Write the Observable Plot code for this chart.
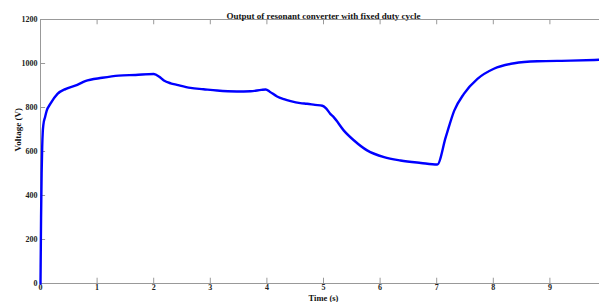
<!DOCTYPE html>
<html>
<head>
<meta charset="utf-8">
<script src="https://cdn.jsdelivr.net/npm/d3@7"></script>
<script src="https://cdn.jsdelivr.net/npm/@observablehq/plot@0.6"></script>
<style>
  html, body { margin: 0; padding: 0; background: #fff; overflow: hidden; }
  #chart { width: 599px; height: 302px; overflow: hidden; }
  #chart svg { max-width: none !important; }
</style>
</head>
<body>
<div id="chart"></div>
<script>
const title = "Output of resonant converter with fixed duty cycle";
const xLabel = "Time (s)";
const yLabel = "Voltage (V)";
const xTicks = [0, 1, 2, 3, 4, 5, 6, 7, 8, 9, 10];
const yTicks = [0, 200, 400, 600, 800, 1000, 1200];

const time = [0, 0.005, 0.01, 0.02, 0.03, 0.04, 0.05, 0.08, 0.11, 0.17, 0.3, 0.45, 0.65, 0.79, 1.09, 1.38, 1.68, 2.0, 2.1, 2.18, 2.3, 2.41, 2.65, 2.88, 3.12, 3.47, 3.71, 3.9, 3.98, 4.05, 4.18, 4.3, 4.42, 4.59, 4.71, 4.85, 4.98, 5.05, 5.12, 5.18, 5.36, 5.54, 5.77, 6.07, 6.36, 6.72, 7.01, 7.16, 7.31, 7.48, 7.72, 8.01, 8.37, 8.78, 9.37, 9.88, 10];
const voltage = [0, 150, 300, 500, 620, 690, 720, 756, 786, 815, 862, 885, 903, 920, 935, 945, 948, 952, 940, 923, 910, 903, 889, 883, 877, 873, 874, 880, 882, 872, 850, 838, 829, 820, 817, 812, 808, 795, 771, 756, 695, 650, 605, 574, 559, 548, 541, 665, 786, 862, 930, 976, 1001, 1010, 1013, 1017, 1018];

const data = time.map((t, i) => ({t, v: voltage[i]}));

const serif = '"Liberation Serif", "Times New Roman", serif';
const axisColor = "#999";
const chart = Plot.plot({
  width: 620,
  height: 302,
  marginLeft: 40,
  marginRight: 14,
  marginTop: 19,
  marginBottom: 19,
  style: {fontFamily: serif, background: "#fff", maxWidth: "none"},
  x: {domain: [0, 10]},
  y: {domain: [0, 1200]},
  marks: [
    Plot.frame({stroke: axisColor, strokeWidth: 1}),
    Plot.ruleX(xTicks, {x: d => d, y1: 0, y2: 24, stroke: axisColor}),
    Plot.ruleX(xTicks, {x: d => d, y1: 1176, y2: 1200, stroke: axisColor}),
    Plot.ruleY(yTicks, {y: d => d, x1: 0, x2: 0.09, stroke: axisColor}),
    Plot.axisX({ticks: xTicks, tickSize: 0, tickPadding: 1, tickFormat: d => String(d), fontSize: 8, fontWeight: "bold", fill: "#222", label: null}),
    Plot.axisY({ticks: yTicks, tickSize: 0, tickPadding: 3, tickFormat: d => String(d), fontSize: 8, fontWeight: "bold", fill: "#222", label: null}),
    Plot.line(data, {x: "t", y: "v", stroke: "#0000ff", strokeWidth: 2.4, curve: "monotone-x"}),
    Plot.text([title], {frameAnchor: "top", dy: -7, text: d => d, fontSize: 9, fontWeight: "bold", fill: "#111"}),
    Plot.text([xLabel], {frameAnchor: "bottom", dy: 17, text: d => d, fontSize: 8.5, fontWeight: "bold", fill: "#111"}),
    Plot.text([yLabel], {frameAnchor: "left", dx: -22, rotate: -90, text: d => d, fontSize: 9, fontWeight: "bold", fill: "#111"})
  ]
});
document.getElementById("chart").appendChild(chart);
</script>
</body>
</html>
